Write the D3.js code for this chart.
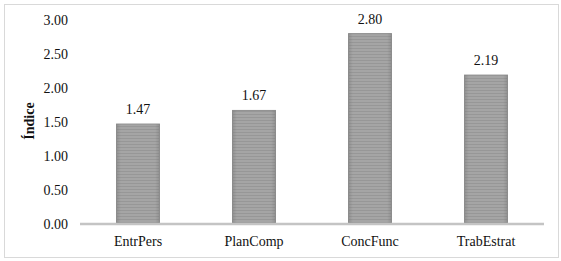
<!DOCTYPE html>
<html>
<head>
<meta charset="utf-8">
<script src="https://cdn.jsdelivr.net/npm/d3@7"></script>
<style>
  body { margin: 0; background: #fff; }
</style>
</head>
<body>
<svg width="561" height="261"></svg>
<script>
'use strict';

const categories = ['EntrPers', 'PlanComp', 'ConcFunc', 'TrabEstrat']
const values = [1.47, 1.67, 2.80, 2.19]
const yTicks = [0, 0.5, 1, 1.5, 2, 2.5, 3]

const serif = '"Liberation Serif"'
const svg = d3.select('svg')
const margin = { left: 80, right: 17, top: 20, bottom: 37 }
const width = 561, height = 261

// outer frame
svg.append('rect')
  .attr('x', 4.5).attr('y', 4.5)
  .attr('width', 554).attr('height', 253)
  .style('fill', 'white')
  .style('stroke', '#d9d9d9')

const defs = svg.append('defs')
const pat = defs.append('pattern')
  .attr('id', 'stripes')
  .attr('patternUnits', 'userSpaceOnUse')
  .attr('width', 4).attr('height', 3)
pat.append('rect').attr('width', 4).attr('height', 3).style('fill', '#a5a5a5')
pat.append('rect').attr('width', 4).attr('height', 1).style('fill', '#979797')

const grad = defs.append('linearGradient').attr('id', 'edge')
grad.append('stop').attr('offset', '0%').attr('stop-color', '#666').attr('stop-opacity', 0.3)
grad.append('stop').attr('offset', '10%').attr('stop-color', '#666').attr('stop-opacity', 0)
grad.append('stop').attr('offset', '90%').attr('stop-color', '#666').attr('stop-opacity', 0)
grad.append('stop').attr('offset', '100%').attr('stop-color', '#666').attr('stop-opacity', 0.3)

const x = d3.scaleBand()
  .domain(categories)
  .range([margin.left, width - margin.right])
  .paddingInner(0.63)
  .paddingOuter(0.315)

const y = d3.scaleLinear()
  .domain([0, 3])
  .range([height - margin.bottom, margin.top])

const yAxis = d3.axisLeft(y)
  .tickValues(yTicks)
  .tickFormat(d3.format('.2f'))
  .tickSize(0)
  .tickPadding(12)

svg.append('g')
  .attr('transform', `translate(${margin.left},0)`)
  .call(yAxis)
  .attr('font-family', serif)
  .attr('font-size', 14)
  .call((g) => g.select('.domain').remove())
  .selectAll('text')
  .attr('fill', '#111')

const bars = svg.append('g')
  .selectAll('g')
  .data(values)
  .enter()
  .append('g')

bars.append('rect')
  .attr('x', (d, i) => x(categories[i]))
  .attr('y', (d) => y(d))
  .attr('width', x.bandwidth())
  .attr('height', (d) => y(0) - y(d))
  .style('fill', 'url(#stripes)')
  .style('stroke', '#909090')
  .style('stroke-width', 1)

bars.append('rect')
  .attr('x', (d, i) => x(categories[i]))
  .attr('y', (d) => y(d))
  .attr('width', x.bandwidth())
  .attr('height', (d) => y(0) - y(d))
  .style('fill', 'url(#edge)')

// x axis line
const xAxis = d3.axisBottom(x).tickSize(0).tickPadding(12)
svg.append('g')
  .attr('transform', `translate(0,${y(0)})`)
  .call(xAxis)
  .attr('font-family', serif)
  .attr('font-size', 14)
  .call((g) => g.select('.domain')
    .attr('d', `M${margin.left},0H${width - margin.right}`)
    .style('stroke', '#c4c4c4')
    .style('stroke-width', 2.5))
  .selectAll('text')
  .attr('fill', '#111')

// value labels
const labelY = (d) => Math.max(y(d) - 10, 22)
bars.append('text')
  .attr('x', (d, i) => x(categories[i]) + x.bandwidth() / 2)
  .attr('y', labelY)
  .attr('text-anchor', 'middle')
  .attr('font-family', serif)
  .attr('font-size', 14)
  .attr('fill', '#111')
  .text((d) => d3.format('.2f')(d))

// leader line where the label had to be pushed up
bars.filter((d) => y(d) - 10 < 22)
  .append('line')
  .attr('x1', x(categories[2]) + x.bandwidth() / 2)
  .attr('x2', x(categories[2]) + x.bandwidth() / 2)
  .attr('y1', 27)
  .attr('y2', (d) => y(d) - 1)
  .style('stroke', '#a6a6a6')
  .style('stroke-width', 1)

svg.append('text')
  .attr('transform', 'translate(34,121) rotate(-90)')
  .attr('text-anchor', 'middle')
  .attr('font-family', serif)
  .attr('font-size', 14)
  .attr('font-weight', 'bold')
  .attr('fill', '#111')
  .text('Índice')
</script>
</body>
</html>
